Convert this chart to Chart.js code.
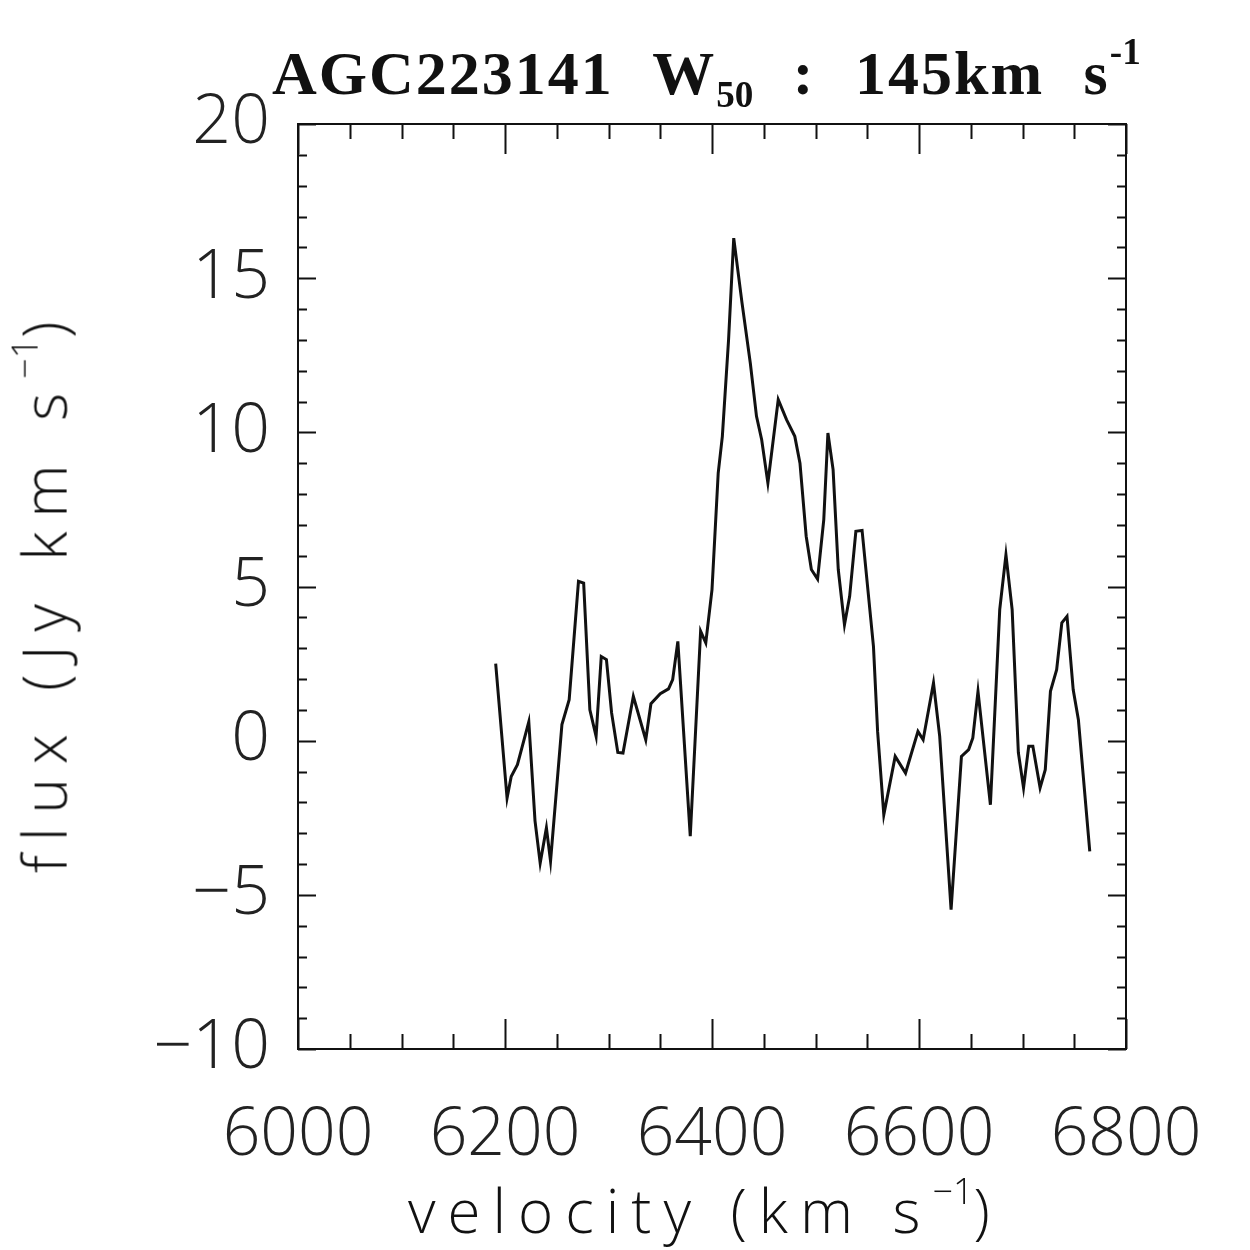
<!DOCTYPE html>
<html>
<head>
<meta charset="utf-8">
<script src="https://cdn.jsdelivr.net/npm/chart.js@4.4.1/dist/chart.umd.min.js"></script>
<style>
  html, body { margin: 0; padding: 0; background: #fff; }
  #wrap { position: relative; width: 1250px; height: 1250px; overflow: hidden; }
  #spec { position: absolute; left: 0; top: 0; }
  .lbl { position: absolute; white-space: nowrap; color: #111; }
  #title { left: 272px; top: 30px; font-family: "Liberation Serif", serif; font-size: 62px; font-weight: bold; letter-spacing: 2px; word-spacing: 22px; }
  #xtitle { left: 408px; top: 1166px; font-family: "Open Sans", sans-serif; font-weight: 300; font-size: 60px; letter-spacing: 12px; }
  #ytitle { left: -298px; top: 548px; width: 680px; text-align: center; font-family: "Open Sans", sans-serif; font-weight: 300; font-size: 60px; letter-spacing: 14px; transform: rotate(-90deg); }
  sub, sup { font-size: 0.6em; letter-spacing: 0; }
  sup { vertical-align: 0.8em; }
  sub { vertical-align: -0.35em; }
</style>
</head>
<body>
<div id="wrap">
  <canvas id="spec" width="1250" height="1250"></canvas>
  <div class="lbl" id="title">AGC223141 W<sub>50</sub> : 145km s<sup>-1</sup></div>
  <div class="lbl" id="xtitle">velocity (km s<sup>−1</sup>)</div>
  <div class="lbl" id="ytitle">flux (Jy km s<sup>−1</sup>)</div>
</div>
<script>
// velocity (km/s) and flux (Jy km/s)
var velocity = [6191, 6202, 6206, 6212, 6223, 6229, 6234, 6240, 6244, 6255,
  6262, 6271, 6276, 6282, 6288, 6293, 6298, 6303, 6309, 6314,
  6324, 6336, 6341, 6350, 6358, 6362, 6367, 6379, 6389, 6394,
  6400, 6406, 6410, 6416, 6421, 6429, 6437, 6443, 6448, 6454,
  6464, 6472, 6480, 6485, 6491, 6496, 6502, 6508, 6512, 6517,
  6522, 6528, 6533, 6539, 6545, 6556, 6560, 6566, 6577, 6587,
  6599, 6604, 6614, 6620, 6631, 6641, 6648, 6652, 6657, 6669,
  6678, 6684, 6690, 6696, 6701, 6706, 6710, 6717, 6722, 6727,
  6733, 6738, 6743, 6749, 6754, 6765];
var flux = [2.5, -1.86, -1.16, -0.78, 0.61, -2.6, -3.97, -2.83, -3.91, 0.52,
  1.33, 5.17, 5.11, 1.0, 0.14, 2.73, 2.63, 0.9, -0.38, -0.4,
  1.44, 0.03, 1.2, 1.52, 1.68, 1.98, 3.22, -3.1, 3.55, 3.17,
  4.9, 8.68, 9.87, 13.0, 16.3, 14.2, 12.25, 10.52, 9.76, 8.36,
  11.06, 10.41, 9.87, 9.0, 6.63, 5.55, 5.24, 7.17, 9.98, 8.79,
  5.55, 3.76, 4.68, 6.79, 6.82, 3.06, 0.3, -2.4, -0.51, -1.05,
  0.3, 0.03, 1.87, 0.14, -5.48, -0.51, -0.29, 0.09, 1.6, -2.08,
  4.25, 6.03, 4.25, -0.39, -1.53, -0.18, -0.18, -1.53, -0.94, 1.6,
  2.3, 3.82, 4.03, 1.65, 0.68, -3.59];

var xTicks = [6000, 6200, 6400, 6600, 6800];
var yTicks = [-10, -5, 0, 5, 10, 15, 20];
var xMinorStep = 50;
var yMinorStep = 1;

var points = [];
for (var i = 0; i < velocity.length; i++) {
  points.push({x: velocity[i], y: flux[i]});
}

// box round the plot with inward ticks on all four sides
var idlFrame = {
  id: 'idlFrame',
  afterDraw: function(chart) {
    var ctx = chart.ctx;
    var a = chart.chartArea;
    var sx = chart.scales.x, sy = chart.scales.y;
    ctx.save();
    ctx.strokeStyle = '#111';
    ctx.lineWidth = 2;
    ctx.strokeRect(a.left, a.top, a.right - a.left, a.bottom - a.top);
    ctx.beginPath();
    for (var v = sx.min; v <= sx.max; v += xMinorStep) {
      var px = Math.round(sx.getPixelForValue(v)) + 0.5;
      var len = xTicks.indexOf(v) >= 0 ? 30 : 15;
      ctx.moveTo(px, a.bottom); ctx.lineTo(px, a.bottom - len);
      ctx.moveTo(px, a.top); ctx.lineTo(px, a.top + len);
    }
    for (var w = sy.min; w <= sy.max; w += yMinorStep) {
      var py = Math.round(sy.getPixelForValue(w)) + 0.5;
      var ylen = yTicks.indexOf(w) >= 0 ? 18 : 9;
      ctx.moveTo(a.left, py); ctx.lineTo(a.left + ylen, py);
      ctx.moveTo(a.right, py); ctx.lineTo(a.right - ylen, py);
    }
    ctx.stroke();
    ctx.restore();
  }
};

var ctx = document.getElementById('spec').getContext('2d');
var chart = new Chart(ctx, {
  type: 'scatter',
  data: {
    datasets: [{
      data: points,
      showLine: true,
      borderColor: '#111',
      borderWidth: 3,
      pointRadius: 0,
      tension: 0,
      fill: false
    }]
  },
  options: {
    responsive: false,
    animation: false,
    layout: { padding: { left: 0, top: 124, right: 124, bottom: 0 } },
    plugins: {
      legend: { display: false },
      tooltip: { enabled: false },
      title: { display: false }
    },
    scales: {
      x: {
        type: 'linear',
        min: 6000,
        max: 6800,
        afterFit: function(scale) { scale.height = 201; },
        afterBuildTicks: function(scale) {
          scale.ticks = xTicks.map(function(v) { return {value: v}; });
        },
        grid: { display: false, drawTicks: false },
        border: { display: false },
        ticks: {
          padding: 48,
          color: '#222',
          maxRotation: 0,
          font: { family: 'Open Sans', weight: 300, size: 66 },
          callback: function(v) { return String(v); }
        }
      },
      y: {
        min: -10,
        max: 20,
        afterFit: function(scale) { scale.width = 298; },
        afterBuildTicks: function(scale) {
          scale.ticks = yTicks.map(function(v) { return {value: v}; });
        },
        grid: { display: false, drawTicks: false },
        border: { display: false },
        ticks: {
          padding: 28,
          color: '#222',
          font: { family: 'Open Sans', weight: 300, size: 68 },
          callback: function(v) { return String(v).replace('-', '\u2212'); }
        }
      }
    }
  },
  plugins: [idlFrame]
});
</script>
</body>
</html>
